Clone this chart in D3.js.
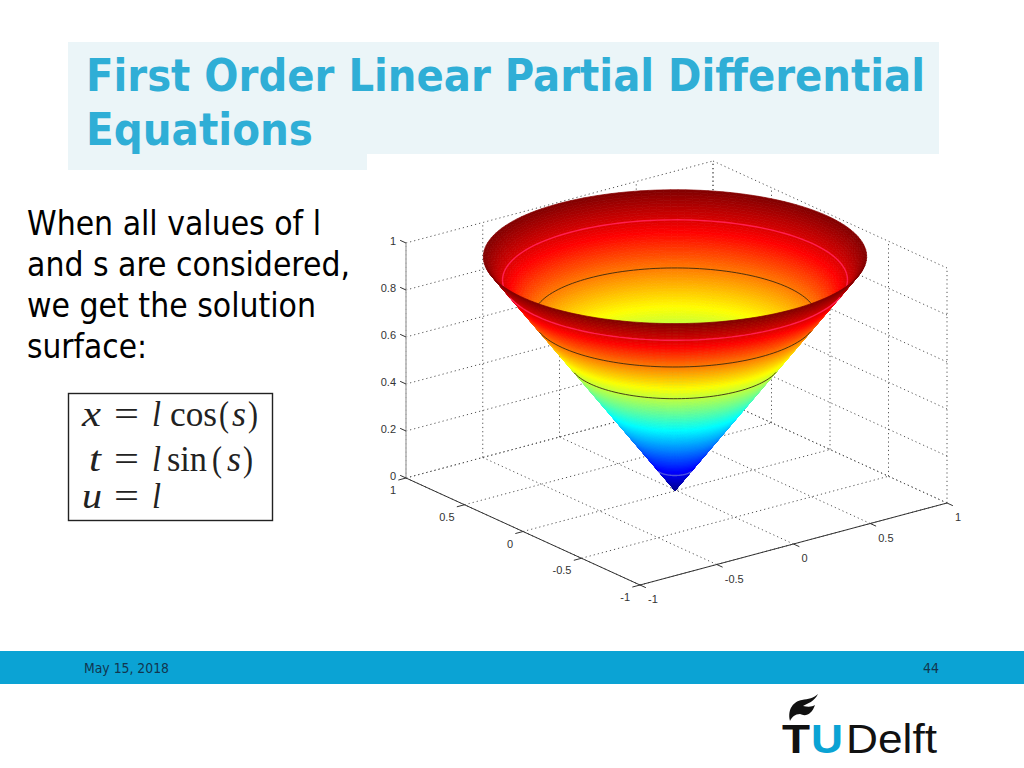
<!DOCTYPE html>
<html><head><meta charset="utf-8">
<script src="https://cdn.jsdelivr.net/npm/d3@7"></script>
<style>html,body{margin:0;padding:0;background:#fff}svg{display:block}</style>
</head><body><svg id="c" width="1024" height="768"></svg>
<script>
// --- data ---
const titleLines = ["First Order Linear Partial Differential", "Equations"];
const bodyLines = ["When all values of l", "and s are considered,", "we get the solution", "surface:"];
const footerDate = "May 15, 2018";
const footerPage = "44";
const xTicks = [-1, -0.5, 0, 0.5, 1];
const yTicks = [-1, -0.5, 0, 0.5, 1];
const zTicks = [0, 0.2, 0.4, 0.6, 0.8, 1];
const blackContours = [0.55, 0.74];
const pinkContours = [0.09, 0.9];
const jetStops = [0, 0.11, 0.36, 0.61, 0.86, 1];
const jetColors = ["#00008f", "#0000ff", "#00ffff", "#ffff00", "#ff0000", "#800000"];
const equationLines = [
  [["x", 1], ["=", 0], ["l", 1], ["cos", 0], ["(", 0], ["s", 1], [")", 0]],
  [["t", 1], ["=", 0], ["l", 1], ["sin", 0], ["(", 0], ["s", 1], [")", 0]],
  [["u", 1], ["=", 0], ["l", 1]]
];

const svg = d3.select("#c");
const bodyFont = "'DejaVu Sans Condensed','DejaVu Sans',sans-serif";
const cyan = "#0ba3d4";

// slide furniture
svg.append("rect").attr("x", 68).attr("y", 42).attr("width", 871).attr("height", 112).attr("fill", "#ebf5f8");
svg.append("rect").attr("x", 68).attr("y", 154).attr("width", 299).attr("height", 16).attr("fill", "#ebf5f8");
svg.selectAll("text.title").data(titleLines).join("text").attr("class", "title")
  .attr("x", 86).attr("y", (d, i) => 91 + i * 54)
  .attr("font-family", bodyFont).attr("font-weight", "bold").attr("font-size", 44)
  .attr("fill", "#2faed6").attr("textLength", (d, i) => i ? 227 : 839).attr("lengthAdjust", "spacingAndGlyphs")
  .text(d => d);
svg.selectAll("text.body").data(bodyLines).join("text").attr("class", "body")
  .attr("x", 27).attr("y", (d, i) => 235 + i * 41)
  .attr("font-family", bodyFont).attr("font-size", 33).attr("fill", "#000")
  .attr("textLength", (d, i) => [294, 323, 289, 120][i]).attr("lengthAdjust", "spacingAndGlyphs")
  .text(d => d);

// equation box
svg.append("rect").attr("x", 68.5).attr("y", 393.5).attr("width", 204).attr("height", 127)
  .attr("fill", "#fff").attr("stroke", "#222").attr("stroke-width", 1.4);
const eqG = svg.append("g").attr("font-family", "'Liberation Serif',serif").attr("font-size", 36).attr("fill", "#222");
const eqBase = [426, 471, 508];
const eqSpans = [
  [[82, 19], [114, 25], [152, 9], [170, 47], [219, 10], [232, 14], [248, 10]],
  [[89, 12], [114, 25], [152, 9], [167, 40], [212, 10], [227, 14], [243, 10]],
  [[82, 20], [114, 25], [152, 9]]
];
equationLines.forEach((parts, i) => parts.forEach((p, j) => {
  eqG.append("text").attr("x", eqSpans[i][j][0]).attr("y", eqBase[i])
    .attr("textLength", eqSpans[i][j][1]).attr("lengthAdjust", "spacingAndGlyphs")
    .attr("font-style", p[1] ? "italic" : "normal").text(p[0]);
}));

// footer
svg.append("rect").attr("x", 0).attr("y", 651).attr("width", 1024).attr("height", 33).attr("fill", cyan);
const footStyle = s => s.attr("font-family", bodyFont).attr("font-size", 14).attr("fill", "#12364f").attr("y", 673);
svg.append("text").call(footStyle).attr("x", 84).attr("textLength", 85).attr("lengthAdjust", "spacingAndGlyphs").text(footerDate);
svg.append("text").call(footStyle).attr("x", 939).attr("text-anchor", "end").text(footerPage);

// logo
svg.append("path").attr("fill", "#111")
  .attr("d", "M790,721 C787,709 794,701 802,700 C808,699 814,698 818,694 C814,702 808,703 803,706 C808,707 812,707 815,705 C812,714 806,717 800,714 C795,714 792,717 790,721 Z");
const logoBase = 753;
svg.append("text").attr("x", 782).attr("y", logoBase).attr("font-family", "'Liberation Sans',sans-serif").attr("font-weight", "bold")
  .attr("font-size", 41).attr("fill", "#111").attr("textLength", 28).attr("lengthAdjust", "spacingAndGlyphs").text("T");
svg.append("text").attr("x", 811).attr("y", logoBase).attr("font-family", "'Liberation Sans',sans-serif").attr("font-weight", "bold")
  .attr("font-size", 41).attr("fill", cyan).attr("textLength", 32).attr("lengthAdjust", "spacingAndGlyphs").text("U");
svg.append("text").attr("x", 846).attr("y", logoBase).attr("font-family", "'Liberation Sans',sans-serif")
  .attr("font-size", 41).attr("fill", "#111").attr("textLength", 91).attr("lengthAdjust", "spacingAndGlyphs").text("Delft");

// --- 3D projection built from linear scales ---
const floorCentre = [676.5, 490.5];
const xToH = d3.scaleLinear([-1, 1], [-153.5, 153.5]), xToV = d3.scaleLinear([-1, 1], [41, -41]);
const yToH = d3.scaleLinear([-1, 1], [117, -117]), yToV = d3.scaleLinear([-1, 1], [53.5, -53.5]);
const zToV = d3.scaleLinear([0, 1], [0, -235]);
const P = (x, y, z) => [floorCentre[0] + xToH(x) + yToH(y), floorCentre[1] + xToV(x) + yToV(y) + zToV(z)];
const seg = (a, b) => "M" + a.map(v => v.toFixed(2)) + "L" + b.map(v => v.toFixed(2));

const grid = svg.append("g").attr("fill", "none").attr("stroke", "#555").attr("stroke-width", 1).attr("stroke-dasharray", "1.2 3");
const gridLines = [];
xTicks.forEach(x => {
  gridLines.push(seg(P(x, -1, 0), P(x, 1, 0)));
  gridLines.push(seg(P(x, 1, 0), P(x, 1, 1)));
});
yTicks.forEach(y => {
  gridLines.push(seg(P(-1, y, 0), P(1, y, 0)));
  gridLines.push(seg(P(1, y, 0), P(1, y, 1)));
});
zTicks.forEach(z => {
  gridLines.push(seg(P(-1, 1, z), P(1, 1, z)));
  gridLines.push(seg(P(1, 1, z), P(1, -1, z)));
});
grid.selectAll("path").data(gridLines).join("path").attr("d", d => d);

// axes
const axes = svg.append("g").attr("fill", "none");
axes.append("path").attr("d", seg(P(-1, 1, 0), P(-1, 1, 1))).attr("stroke", "#b5b5b5").attr("stroke-width", 1.6);
axes.append("path").attr("d", seg(P(-1, 1, 0), P(-1, -1, 0))).attr("stroke", "#333").attr("stroke-width", 1);
axes.append("path").attr("d", seg(P(-1, -1, 0), P(1, -1, 0))).attr("stroke", "#333").attr("stroke-width", 1);
const tickLen = 0.05;
xTicks.forEach(x => axes.append("path").attr("d", seg(P(x, -1, 0), P(x, -1 - tickLen, 0))).attr("stroke", "#333"));
yTicks.forEach(y => axes.append("path").attr("d", seg(P(-1, y, 0), P(-1 - tickLen, y, 0))).attr("stroke", "#333"));
zTicks.forEach(z => axes.append("path").attr("d", seg(P(-1, 1, z), P(-1, 1 + tickLen, z))).attr("stroke", "#333"));

const labels = svg.append("g").attr("font-family", "'Liberation Sans',sans-serif").attr("font-size", 11).attr("fill", "#333");
xTicks.forEach(x => { const p = P(x, -1, 0);
  labels.append("text").attr("x", p[0] + 8).attr("y", p[1] + 18).text(x); });
yTicks.forEach(y => { const p = P(-1, y, 0);
  labels.append("text").attr("x", p[0] - 10).attr("y", p[1] + 16).attr("text-anchor", "end").text(y); });
zTicks.forEach(z => { const p = P(-1, 1, z);
  labels.append("text").attr("x", 396).attr("y", p[1] + 2).attr("text-anchor", "end").text(z); });

// --- surface x = l cos(s), t = l sin(s), u = l ---
const jet = d3.scaleLinear(jetStops, jetColors).clamp(true);
const lGrid = d3.range(0, 1.0001, 1 / 110);
const sGrid = d3.range(0, 2 * Math.PI + 1e-6, 2 * Math.PI / 160);
const surfaceNudge = { dx: -1.5, radial: 0.993, height: 0.995 };
const S = (l, s) => {
  const p = P(surfaceNudge.radial * l * Math.cos(s), surfaceNudge.radial * l * Math.sin(s), surfaceNudge.height * l);
  return [p[0] + surfaceNudge.dx, p[1]];
};
const faces = { inside: [], outside: [] };
const areaFace = q => d3.polygonArea(q) < 0 ? "inside" : "outside";
d3.pairs(lGrid).forEach(([l0, l1]) => d3.pairs(sGrid).forEach(([s0, s1]) => {
  const q = [S(l0, s0), S(l0, s1), S(l1, s1), S(l1, s0)];
  faces[areaFace(q)].push({ q, c: jet((l0 + l1) / 2) });
}));
function faceOf(s) {
  return areaFace([S(0.5, s - 0.01), S(0.5, s + 0.01), S(0.6, s + 0.01), S(0.6, s - 0.01)]);
}
const line = d3.line();
function drawFaces(name) {
  svg.append("g").selectAll("path").data(faces[name]).join("path")
    .attr("d", d => line(d.q) + "Z").attr("fill", d => d.c).attr("stroke", d => d.c).attr("stroke-width", 0.7);
}
function drawContours(name) {
  const g = svg.append("g").attr("fill", "none");
  const addLevel = (l, col, w) => {
    const segs = d3.pairs(sGrid).filter(([a, b]) => faceOf((a + b) / 2) === name).map(([a, b]) => seg(S(l, a), S(l, b)));
    g.append("path").attr("d", segs.join("")).attr("stroke", col).attr("stroke-width", w);
  };
  blackContours.forEach(l => addLevel(l, "#3a2a10", 0.9));
  pinkContours.forEach(l => addLevel(l, l < 0.5 ? "#4a50e0" : "#ff1f50", 1.4));
}
drawFaces("inside");
drawContours("inside");
drawFaces("outside");
drawContours("outside");
</script></body></html>
